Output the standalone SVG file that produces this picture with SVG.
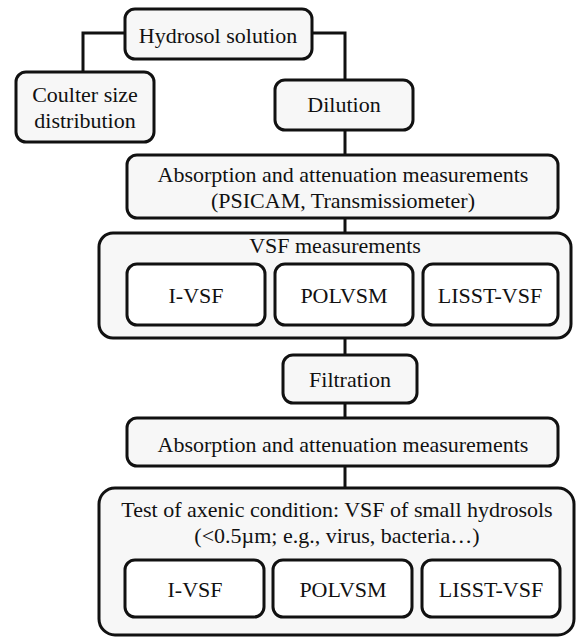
<svg xmlns="http://www.w3.org/2000/svg" width="576" height="637" viewBox="0 0 576 637">
<style>
.b{fill:#f7f7f7;stroke:#111;stroke-width:3}
.w{fill:#fff;stroke:#111;stroke-width:3}
.c{fill:none;stroke:#111;stroke-width:3}
text{font-family:'Liberation Serif','Times New Roman',Tinos,'DejaVu Serif',serif;font-size:22px;fill:#111;text-anchor:middle}
</style>
<rect width="576" height="637" fill="#fff"/>
<g id="connectors">
<polyline class="c" points="125,33 83,33 83,72"/>
<polyline class="c" points="312,33 345,33 345,80"/>
<line class="c" x1="345" y1="130" x2="345" y2="155"/>
<line class="c" x1="345" y1="218" x2="345" y2="233"/>
<line class="c" x1="345" y1="338" x2="345" y2="355"/>
<line class="c" x1="345" y1="403" x2="345" y2="418"/>
<line class="c" x1="345" y1="466" x2="345" y2="488"/>
</g>
<g id="hydrosol"><rect class="b" x="125" y="9" width="187" height="50" rx="10"/><text x="218" y="43">Hydrosol solution</text></g>
<g id="coulter"><rect class="b" x="16" y="72" width="138" height="70" rx="10"/><text x="85" y="102">Coulter size</text><text x="85" y="128">distribution</text></g>
<g id="dilution"><rect class="b" x="275" y="80" width="138" height="50" rx="10"/><text x="344" y="112">Dilution</text></g>
<g id="absorption1"><rect class="b" x="127" y="155" width="431" height="63" rx="10"/><text x="343" y="182">Absorption and attenuation measurements</text><text x="343" y="208">(PSICAM, Transmissiometer)</text></g>
<g id="vsf"><rect class="b" x="99" y="233" width="472" height="105" rx="14"/><text x="335" y="253">VSF measurements</text>
<g id="vsf-ivsf"><rect class="w" x="127" y="264" width="138" height="61" rx="10"/><text x="196" y="303">I-VSF</text></g>
<g id="vsf-polvsm"><rect class="w" x="275" y="264" width="138" height="61" rx="10"/><text x="344" y="303">POLVSM</text></g>
<g id="vsf-lisst"><rect class="w" x="423" y="264" width="135" height="61" rx="10"/><text x="490" y="303">LISST-VSF</text></g>
</g>
<g id="filtration"><rect class="b" x="283" y="355" width="134" height="48" rx="10"/><text x="350" y="387">Filtration</text></g>
<g id="absorption2"><rect class="b" x="127" y="418" width="431" height="48" rx="10"/><text x="343" y="452">Absorption and attenuation measurements</text></g>
<g id="test"><rect class="b" x="99" y="488" width="475" height="147" rx="16"/><text x="337" y="517">Test of axenic condition: VSF of small hydrosols</text><text x="337" y="543">(&lt;0.5µm; e.g., virus, bacteria…)</text>
<g id="test-ivsf"><rect class="w" x="125" y="560" width="139" height="57" rx="10"/><text x="195" y="597">I-VSF</text></g>
<g id="test-polvsm"><rect class="w" x="273" y="560" width="139" height="57" rx="10"/><text x="343" y="597">POLVSM</text></g>
<g id="test-lisst"><rect class="w" x="422" y="560" width="138" height="57" rx="10"/><text x="491" y="597">LISST-VSF</text></g>
</g>
</svg>
